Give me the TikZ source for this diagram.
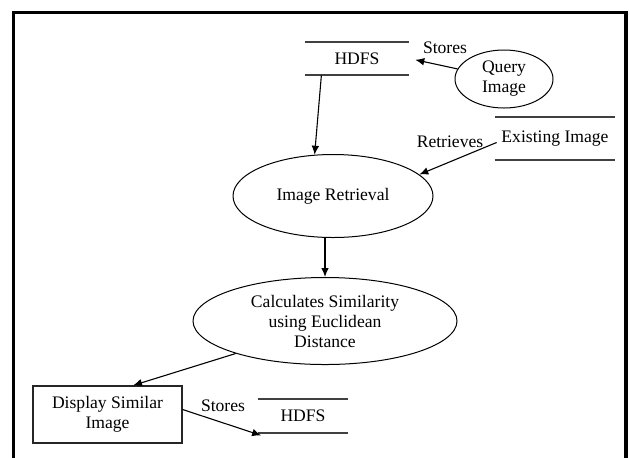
\documentclass[tikz,border=0pt]{standalone}
\usepackage{fontspec}
\setmainfont{Liberation Serif}
\usetikzlibrary{positioning,arrows.meta,calc,shapes.geometric}

\begin{document}
\begin{tikzpicture}[x=0.5pt,y=-0.5pt,
  font=\fontsize{8.8}{10}\selectfont,
  proc/.style={ellipse,draw,line width=0.5pt,inner sep=0pt,align=center},
  storeline/.style={draw=black!75,line width=1pt},
  store/.style={inner sep=0pt,append after command={
      (\tikzlastnode.north west) edge[storeline] (\tikzlastnode.north east)
      (\tikzlastnode.south west) edge[storeline] (\tikzlastnode.south east)}},
  flow/.style={-{Latex[length=4.5pt,width=3.8pt]},line width=0.55pt},
  lbl/.style={inner sep=0pt}]
  \clip (0,0) rectangle (630,457);
  \draw[line width=1.75pt] (13.5,480) |- (626,12.5) -- (626,480);

  \node[store,minimum width=52pt,minimum height=16.5pt] (hdfsA) at (357,58.5) {HDFS};
  \node[proc,minimum width=49pt,minimum height=29pt] (query) at (504,79) {Query\\Image};
  \node[store,minimum width=60pt,minimum height=21.5pt] (exist) at (555,138.5) {Existing Image};
  \node[proc,minimum width=100pt,minimum height=41.5pt] (retr) at (333,196) {Image Retrieval};
  \node[proc,minimum width=132pt,minimum height=43.5pt] (simil) at (325,321) {Calculates Similarity\\using Euclidean\\Distance};
  \node[draw=black!85,line width=0.6pt,inner sep=0pt,align=center,minimum width=74.5pt,minimum height=28.5pt] (disp) at (107.5,414.5) {Display Similar\\Image};
  \node[store,minimum width=44.5pt,minimum height=17pt] (hdfsB) at (303,416) {HDFS};

  \node[lbl] (stA) at (445,48) {Stores};
  \node[lbl] (retrlbl) at (450,142) {Retrieves};
  \node[lbl] (stB) at (223,406) {Stores};

  \draw[flow,shorten >=3pt] (query) -- (hdfsA.east);
  \draw[flow] ($(hdfsA.south west)!0.16!(hdfsA.south east)$) -- (retr.114);
  \draw[flow] ($(exist.west)+(2,4)$) -- (retr.14);
  \draw[flow] (simil.north |- retr.south) -- (simil.north);
  \draw[flow] (simil.200) -- ($(disp.north west)!0.67!(disp.north east)$);
  \draw[flow] ($(disp.east)+(0,-5)$) -- ($(hdfsB.south west)+(3,2)$);
\end{tikzpicture}
\end{document}
